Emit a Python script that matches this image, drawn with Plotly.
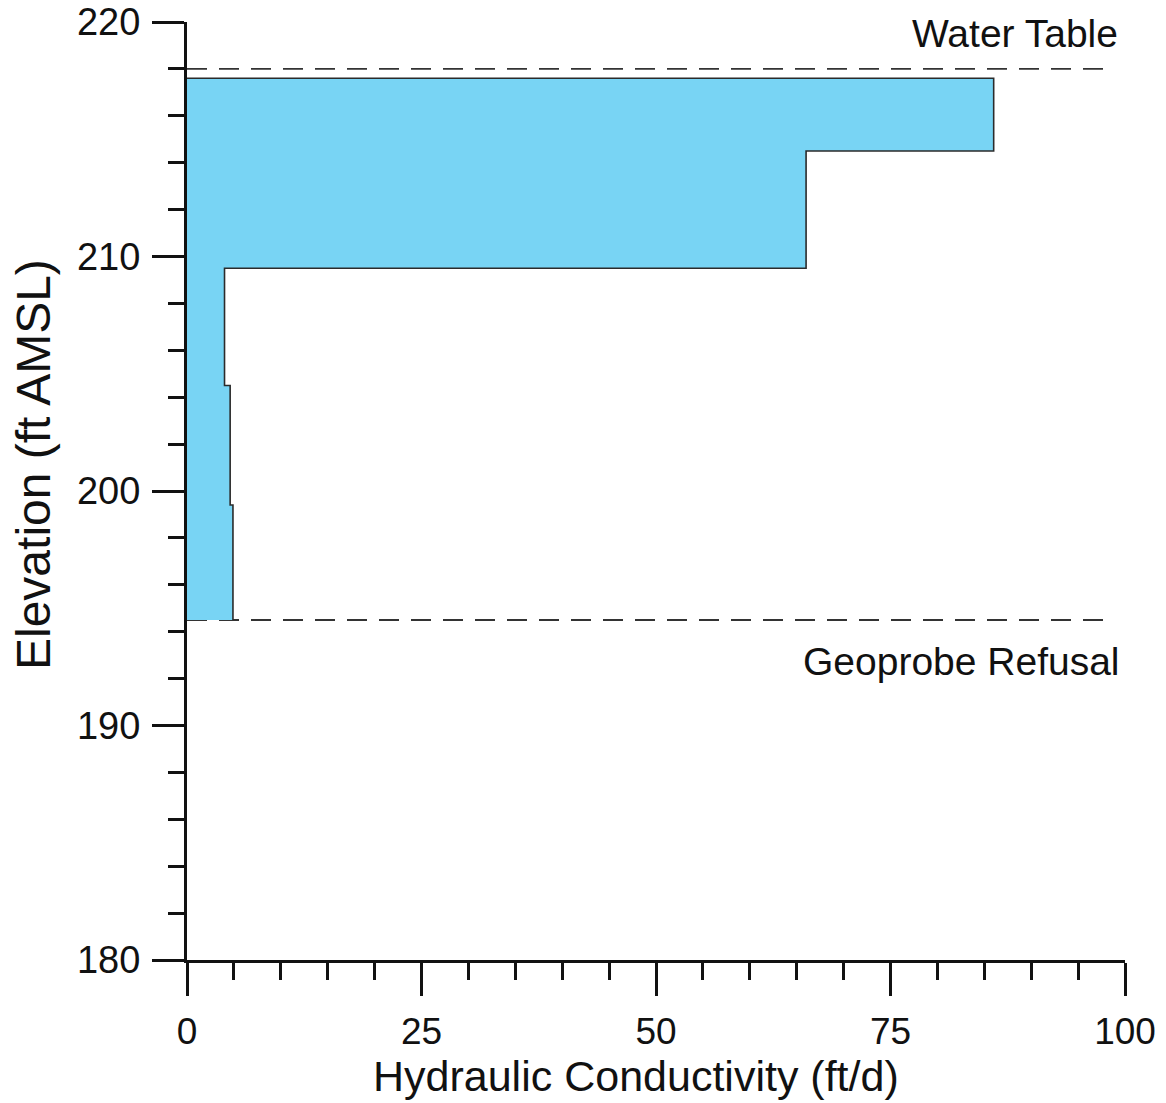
import plotly.graph_objects as go

# Step profile of hydraulic conductivity vs elevation
interval_tops = [217.6, 214.5, 209.5, 204.5, 199.4]
interval_bottoms = [214.5, 209.5, 204.5, 199.4, 194.5]
conductivity = [86.0, 66.0, 4.0, 4.6, 4.9]

water_table = 218.0
refusal = 194.5
ref_line_end = 98.5

x_ticks = [0, 25, 50, 75, 100]
y_ticks = [180, 190, 200, 210, 220]

# Build outline of step profile
px = [0]
py = [interval_tops[0]]
for top, bot, k in zip(interval_tops, interval_bottoms, conductivity):
    px += [k, k]
    py += [top, bot]
fill_x = px + [0, 0]
fill_y = py + [interval_bottoms[-1], interval_tops[0]]

FONT = "Liberation Sans, Arial, sans-serif"
fig = go.Figure()

# dashed reference lines
for yv in (water_table, refusal):
    fig.add_trace(go.Scatter(x=[0, ref_line_end], y=[yv, yv], mode="lines",
                             line=dict(color="#333333", width=1.8, dash="20px,12px"),
                             hoverinfo="skip", showlegend=False))
# fill
fig.add_trace(go.Scatter(x=fill_x, y=fill_y, mode="lines", fill="toself",
                         fillcolor="#78D4F4", line=dict(width=0, color="rgba(0,0,0,0)"),
                         showlegend=False))
# outline
fig.add_trace(go.Scatter(x=px, y=py, mode="lines",
                         line=dict(color="#2b2b2b", width=1.6),
                         showlegend=False))

fig.add_annotation(x=99.5, y=219.53, xref="x", yref="y", text="Water Table",
                   showarrow=False, xanchor="right", yanchor="middle",
                   font=dict(family=FONT, size=39, color="#111"))
fig.add_annotation(x=99.7, y=192.75, xref="x", yref="y", text="Geoprobe Refusal",
                   showarrow=False, xanchor="right", yanchor="middle",
                   font=dict(family=FONT, size=39, color="#111"))

# axis titles placed as annotations to match reference positions
fig.add_annotation(x=636, y=1076, xref="paper", yref="paper", text="Hydraulic Conductivity (ft/d)",
                   showarrow=False, xanchor="center", yanchor="middle",
                   font=dict(family=FONT, size=43, color="#111"))
fig.add_annotation(x=33, y=465, xref="paper", yref="paper", text="Elevation (ft AMSL)",
                   showarrow=False, xanchor="center", yanchor="middle", textangle=-90,
                   font=dict(family=FONT, size=48, color="#111"))

W, H = 1166, 1103
L, R, T, B = 187, 41, 22, 143
pw, ph = W - L - R, H - T - B
# convert paper-pixel positions for title annotations
for ann in fig.layout.annotations[2:]:
    ann.x = (ann.x - L) / pw
    ann.y = 1 - (ann.y - T) / ph

fig.update_layout(
    width=W, height=H,
    margin=dict(l=L, r=R, t=T, b=B),
    plot_bgcolor="white", paper_bgcolor="white",
    font=dict(family=FONT, color="#111"),
)
fig.update_xaxes(
    range=[0, 100], tickvals=x_ticks, ticks="outside", ticklen=33, tickwidth=2.5,
    tickcolor="#111", showline=True, linecolor="#111", linewidth=3,
    showgrid=False, zeroline=False, automargin=False,
    minor=dict(dtick=5, ticks="outside", ticklen=17, tickwidth=2.5, tickcolor="#111", showgrid=False),
    tickfont=dict(size=37, family=FONT), ticklabelstandoff=4,
)
fig.update_yaxes(
    range=[180, 220], tickvals=y_ticks, ticks="outside", ticklen=32, tickwidth=2.5,
    tickcolor="#111", showline=True, linecolor="#111", linewidth=3,
    showgrid=False, zeroline=False, automargin=False,
    minor=dict(dtick=2, ticks="outside", ticklen=16, tickwidth=2.5, tickcolor="#111", showgrid=False),
    tickfont=dict(size=38, family=FONT), ticklabelstandoff=4,
)

fig.write_html("out.html")
